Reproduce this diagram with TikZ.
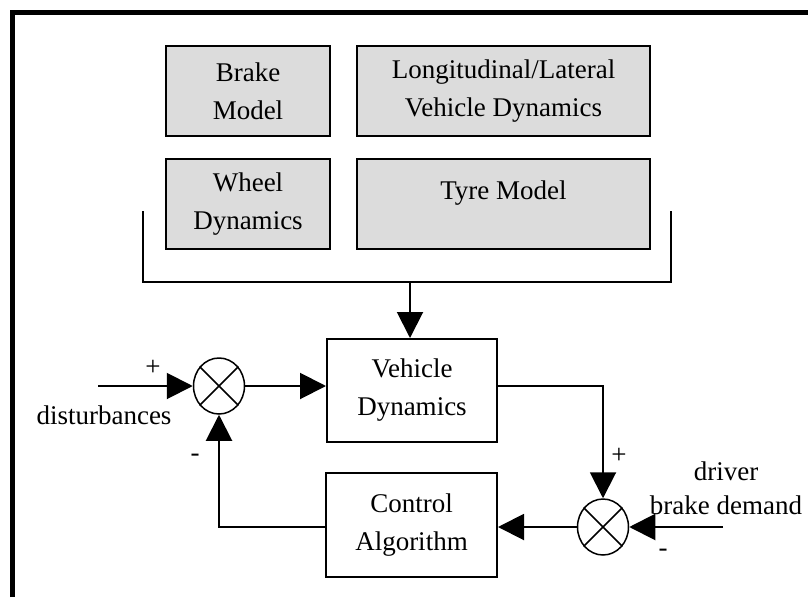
\documentclass[tikz,border=0pt]{standalone}
\usepackage{fontspec}
\setmainfont{Liberation Serif}
\usetikzlibrary{arrows.meta,shapes.geometric}
\definecolor{boxgray}{RGB}{220,220,220}
\begin{document}
\begin{tikzpicture}[x=1pt,y=-1pt,
  every node/.style={font=\fontsize{27}{38}\selectfont},
  graybox/.style={draw, line width=2pt, fill=boxgray, inner sep=0pt, align=center},
  whitebox/.style={draw, line width=2pt, fill=white, inner sep=0pt, align=center},
  sumj/.style={draw, ellipse, line width=1.5pt, minimum width=51pt, minimum height=56pt, inner sep=0pt},
  cross/.style={line width=1.5pt},
  conn/.style={line width=2pt},
  arr/.style={conn, -{Triangle[length=26pt,width=26pt]}},
  txt/.style={inner sep=0pt}
]
\useasboundingbox (0,0) rectangle (808,597);
\fill[white] (0,0) rectangle (808,597);
% frame
\draw[line width=5pt] (12.5,597) -- (12.5,12.5) -- (808,12.5);
% model boxes
\node[graybox, minimum width=164pt, minimum height=90pt] (brake) at (248,91) {Brake\\Model};
\node[graybox, minimum width=293pt, minimum height=90pt] (long) at (503.5,91) {Longitudinal/Lateral\\Vehicle Dynamics};
\node[graybox, minimum width=164pt, minimum height=90pt] (wheel) at (248,204) {Wheel\\Dynamics};
\node[graybox, minimum width=293pt, minimum height=90pt] (tyre) at (503.5,204) {};
\node[txt] (tyretxt) at (503.5,193) {Tyre Model};
% loop blocks
\node[whitebox, minimum width=170pt, minimum height=103pt] (vd) at (412,390.5) {Vehicle\\Dynamics};
\node[whitebox, minimum width=171pt, minimum height=104pt] (ca) at (411.5,525) {Control\\Algorithm};
\node[sumj] (s1) at (219,386) {};
\node[sumj] (s2) at (603,527) {};
\draw[cross] (s1.45) -- (s1.225) (s1.135) -- (s1.315);
\draw[cross] (s2.45) -- (s2.225) (s2.135) -- (s2.315);
% bracket
\coordinate (bl) at (143,211);
\coordinate (bm) at (410,282);
\coordinate (br) at (671,211);
\draw[conn] (bl) |- (bm) -| (br);
\draw[arr] (bm) -- (bm |- vd.north);
% connectors
\coordinate (din) at (98,386);
\coordinate (dd) at (723,527);
\draw[arr] (din) -- (s1.west);
\draw[arr] (s1.east) -- (vd.west |- s1.east);
\draw[arr] (vd.east |- s1.east) -- (s2.north |- s1.east) -- (s2.north);
\draw[arr] (dd) -- (s2.east);
\draw[arr] (s2.west) -- (ca.east |- s2.west);
\draw[arr] (ca.west |- s2.west) -- (s1.south |- s2.west) -- (s1.south);
% labels
\node[txt] (p1) at (153,368) {+};
\node[txt] (dist) at (104,415) {disturbances};
\node[txt] (m1) at (195,458) {-};
\node[txt] (p2) at (619,456) {+};
\node[txt] (drv) at (726,471) {driver};
\node[txt] (bd) at (726,505) {brake demand};
\node[txt] (m2) at (663,553) {-};
\end{tikzpicture}
\end{document}
